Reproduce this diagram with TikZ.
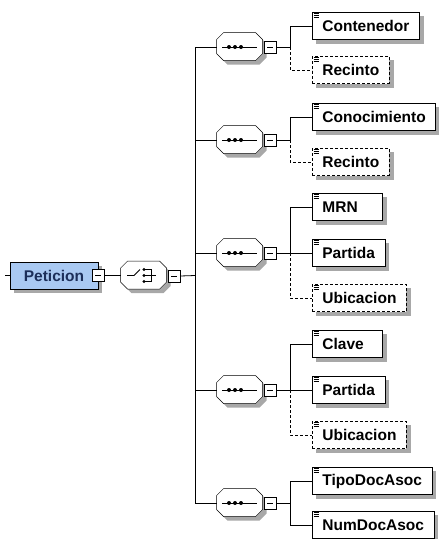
\documentclass[tikz,border=0pt]{standalone}
\usepackage{fontspec}
\setmainfont{Liberation Sans}
\usetikzlibrary{backgrounds}
\definecolor{petfill}{HTML}{A9C9F2}
\definecolor{pettext}{HTML}{1C2F5A}
\definecolor{shadowgray}{HTML}{A8A8A8}

\tikzset{
  elem/.style = {draw, fill = white, rectangle, anchor = west, minimum height = 27pt, inner xsep = 10pt, font = \fontsize{15.5}{17}\selectfont\bfseries},
  shortelem/.style = {elem, text width = 50pt},
  optelem/.style = {elem, dash pattern = on 3pt off 2pt},
  compbox/.style = {rectangle, minimum width = 46pt, minimum height = 28pt, inner sep = 0pt},
  minusbox/.style = {draw, fill = white, rectangle, minimum size = 12pt, inner sep = 0pt},
  optline/.style = {dash pattern = on 3pt off 2pt},
}

\begin{document}
\begin{tikzpicture}[x = 1pt, y = -1pt, line width = 0.8pt]

        \useasboundingbox (0, 0) rectangle (439, 539);

        % Root element
        \coordinate (in) at (5, 275.5);
        \node [draw, fill = petfill, rectangle, minimum width = 88pt, minimum height = 27pt, text = pettext, font = \fontsize{15.5}{17}\selectfont\bfseries] (pet) at (54, 275.5) {Peticion};
        \node [minusbox] (petm) at (pet.east) {\rule{6pt}{0.8pt}};

        % Choice
        \node [compbox] (cho) at (144, 275.5) {};
        \node [minusbox] (chom) at (174, 276) {\rule{6pt}{0.8pt}};
        \draw (cho.center) ++(-17, 0) -- ++(7, 0) -- ++(6, -6);
        \foreach \d in {-6, 0, 6}
            \fill (cho.center) ++(0, \d) circle (1.7pt);
        \draw (cho.center) ++(0, -6) -- ++(7, 0) -- ++(0, 12) -- ++(-7, 0);
        \draw (cho.center) ++(0, 0) -- ++(12, 0);
        \coordinate (bus) at (195, 275.5);

        % Sequences
        \foreach \s/\y in {1/47, 2/140, 3/253, 4/390, 5/503} {
            \node [compbox] (seq\s) at (240, \y) {};
            \node [minusbox] (seqm\s) at (270, \y) {\rule{6pt}{0.8pt}};
            \draw (seq\s.center) ++(-18, 0) -- ++(35, 0);
            \foreach \d in {-11, -5, 1}
                \fill (seq\s.center) ++(\d, 0) circle (2pt);
            \coordinate (br\s) at (290, \y);
        }

        % Elements
        \node [elem] (cont) at (312, 26) {Contenedor};
        \node [optelem] (rec1) at (312, 70) {Recinto};
        \node [elem] (cono) at (312, 117) {Conocimiento};
        \node [optelem] (rec2) at (312, 162) {Recinto};
        \node [shortelem] (mrn) at (312, 207) {MRN};
        \node [elem] (part1) at (312, 253) {Partida};
        \node [optelem] (ubi1) at (312, 298) {Ubicacion};
        \node [shortelem] (clave) at (312, 344) {Clave};
        \node [elem] (part2) at (312, 390) {Partida};
        \node [optelem] (ubi2) at (312, 435) {Ubicacion};
        \node [elem] (tipo) at (312, 481) {TipoDocAsoc};
        \node [elem] (num) at (312, 525) {NumDocAsoc};

        \foreach \e in {cont, rec1, cono, rec2, mrn, part1, ubi1, clave, part2, ubi2, tipo, num}
            \foreach \d in {1.5, 3.5, 5.5}
                \draw [line width = 0.5pt] (\e.north west) ++(1.5, \d) -- ++(5, 0);

        % Shadows and compositor outlines
        \begin{scope}[on background layer]
            \foreach \e in {pet, cont, rec1, cono, rec2, mrn, part1, ubi1, clave, part2, ubi2, tipo, num}
                \fill [shadowgray] ([shift = {(4pt, -4pt)}]\e.north west) rectangle ([shift = {(4pt, -4pt)}]\e.south east);
            \foreach \n in {cho, seq1, seq2, seq3, seq4, seq5} {
                \fill [shadowgray] (\n.north west) ++(11, 4) -- ++(32, 0) -- ++(7, 7) -- ++(0, 14) -- ++(-7, 7) -- ++(-32, 0) -- ++(-7, -7) -- ++(0, -14) -- cycle;
                \draw [fill = white] (\n.north west) ++(7, 0) -- ++(32, 0) -- ++(7, 7) -- ++(0, 14) -- ++(-7, 7) -- ++(-32, 0) -- ++(-7, -7) -- ++(0, -14) -- cycle;
            }
        \end{scope}

        % Connectors
        \draw (in) -- (pet.west);
        \draw (petm.east) -- (cho.west);
        \draw (chom.east) -- (bus);
        \draw (bus |- seq1.west) -- (bus |- seq5.west);
        \foreach \s in {1, ..., 5} {
            \draw (bus |- seq\s.west) -- (seq\s.west);
            \draw (seqm\s.east) -- (br\s);
        }
        \draw (br1) |- (cont.west);
        \draw [optline] (br1) |- (rec1.west);
        \draw (br2) |- (cono.west);
        \draw [optline] (br2) |- (rec2.west);
        \draw (br3) |- (mrn.west);
        \draw (br3) -- (part1.west);
        \draw [optline] (br3) |- (ubi1.west);
        \draw (br4) |- (clave.west);
        \draw (br4) -- (part2.west);
        \draw [optline] (br4) |- (ubi2.west);
        \draw (br5) |- (tipo.west);
        \draw (br5) |- (num.west);

\end{tikzpicture}
\end{document}
